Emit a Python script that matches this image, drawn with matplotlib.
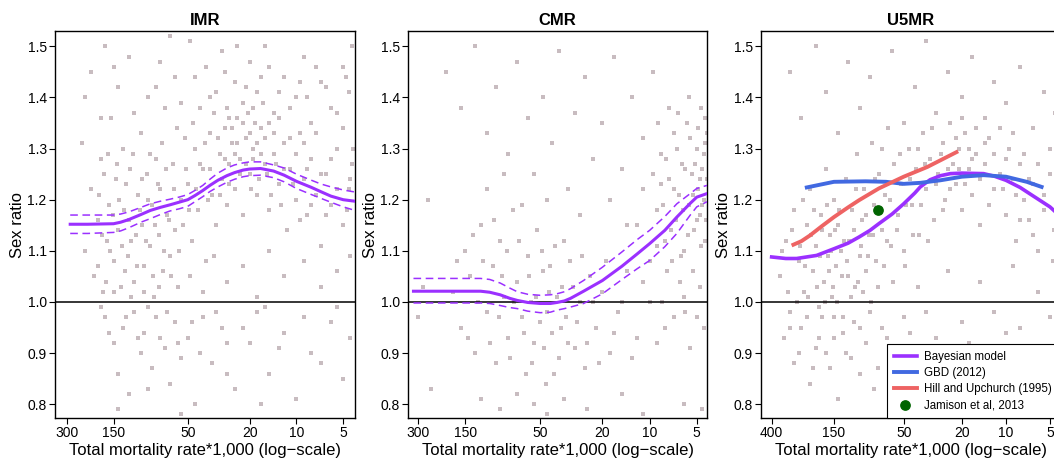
import matplotlib
matplotlib.use("Agg")
import matplotlib.pyplot as plt
from matplotlib.ticker import FixedLocator, FixedFormatter, NullLocator

plt.rcParams['font.family'] = ['Liberation Sans', 'DejaVu Sans']

imr_pts = [(240,1.31),(230,1.10),(210,1.22),(200,1.05),(190,1.16),(180,1.28),(175,1.02),(165,1.12),(160,1.19),
           (155,1.36),(150,1.08),(145,1.24),(140,1.14),(135,1.03),(130,1.30),(128,1.18),(122,1.09),(118,1.26),
           (115,1.12),(110,1.04),(105,1.21),(100,1.33),(98,1.15),(95,1.07),(92,1.25),(88,1.11),(85,1.19),
           (82,1.01),(80,1.28),(77,1.13),(75,1.22),(72,1.06),(70,1.38),(68,1.17),(65,1.09),(62,1.27),(60,1.14),
           (58,1.03),(55,1.20),(52,1.32),
           (210,1.45),(170,1.50),(140,1.42),(120,1.48),(90,1.40),(75,1.47),(60,1.44),(48,1.51),(42,1.38),
           (38,1.46),(33,1.41),(30,1.49),(27,1.36),(25,1.43),(22,1.39),(20,1.47),(18,1.41),(16,1.50),(14,1.37),
           (12,1.44),(10,1.40),(9,1.48),(8,1.35),(7,1.43),(6,1.38),(5,1.46),(4.6,1.41),
           (50,1.23),(47,1.12),(45,1.30),(43,1.18),(40,1.26),(38,1.08),(36,1.33),(35,1.21),(33,1.15),(31,1.29),
           (30,1.24),(29,1.34),(28,1.19),(27,1.27),(26,1.31),(25,1.22),(24,1.36),(23,1.28),(22,1.17),(21,1.32),
           (20,1.25),(19,1.30),(18,1.21),(17,1.34),(16,1.27),(15,1.18),(14,1.29),(13,1.23),(12,1.31),(11.5,1.14),
           (11,1.26),(10,1.20),(9.5,1.33),(9,1.24),(8.5,1.17),(8,1.28),(7.5,1.21),(7,1.11),(6.5,1.25),(6,1.19),
           (5.5,1.30),(5,1.15),(4.6,1.22),(4.4,1.27),
           (48,1.05),(40,1.02),(34,1.09),(28,1.04),(22,1.07),(18,1.01),(15,1.10),(12,1.05),(9,1.08),(7,1.03),
           (5.5,1.06),(4.5,1.09),
           (170,0.97),(150,0.92),(140,0.86),(130,0.95),(120,0.82),(110,0.98),(100,0.90),(95,0.94),(85,0.87),
           (80,0.97),(70,0.91),(65,0.84),(60,0.96),(55,0.89),(50,0.93),(45,0.80),(40,0.97),(35,0.88),(30,0.95),
           (25,0.83),(20,0.92),(18,0.98),(15,0.86),(12,0.94),(10,0.81),(8,0.90),(6,0.96),(5,0.85),(4.5,0.93),
           (190,1.07),(185,1.21),(178,1.13),(172,1.25),(168,1.04),(162,1.29),(158,1.10),(152,1.17),(148,1.02),
           (143,1.27),(138,1.20),(133,1.11),(127,1.06),(125,1.23),(120,1.16),(116,1.01),(113,1.29),(108,1.13),
           (106,1.07),(102,1.18),(99,1.24),(96,1.02),(93,1.12),(90,1.20),(87,1.29),(84,1.05),(81,1.15),(78,1.23),
           (76,1.03),(73,1.31),(71,1.10),(69,1.26),(66,1.16),(64,1.05),(61,1.22),(59,1.34),(57,1.10),(54,1.15),
           (51,1.26),(49,1.18),
           (46,1.35),(44,1.22),(42,1.27),(39,1.31),(37,1.20),(36,1.26),(34,1.37),(32,1.32),(31,1.21),(29,1.28),
           (28,1.38),(27,1.23),(26,1.34),(25,1.29),(24,1.31),(23,1.25),(22,1.35),(21,1.27),(20.5,1.37),(20,1.33),
           (19.5,1.22),(19,1.28),(18.5,1.35),(18,1.31),(17.5,1.24),(17,1.29),(16.5,1.39),(16,1.32),(15.5,1.25),
           (15,1.35),(14.5,1.21),(14,1.33),(13.5,1.27),(13,1.36),(12.5,1.19),(12,1.26),(11,1.32),(10.5,1.23),
           (10,1.29),(9.5,1.16),(9,1.31),(8.5,1.26),(8,1.19),(7.5,1.33),(7,1.25),(6.5,1.17),(6,1.28),(5.5,1.22),
           (5,1.34),(4.7,1.18),(4.5,1.24),(4.3,1.30),
           (180,0.99),(160,0.94),(125,0.97),(105,0.93),(90,0.99),(75,0.93),(68,0.98),(58,0.92),(47,0.96),
           (42,0.90),(33,0.98),(28,0.92),(22,0.95),(16,0.99),(13,0.91),(9,0.97),(7,0.88),(5.5,0.99),(140,0.79),
           (90,0.83),(55,0.78),(28,0.86),(17,0.80),
           (230,1.40),(180,1.36),(150,1.46),(110,1.37),(80,1.42),(65,1.52),(55,1.39),(45,1.44),(36,1.40),
           (29,1.45),(24,1.50),(21,1.42),(19,1.38),(17,1.44),(15,1.46),(13,1.41),(11,1.38),(9.5,1.43),(8.5,1.40),
           (7.5,1.46),(6.5,1.42),(5.5,1.37),(4.8,1.44),(4.4,1.50)]

cmr_pts = [(200,1.45),(160,1.38),(130,1.50),(110,1.33),(95,1.42),(80,1.29),(70,1.47),(60,1.36),(55,1.25),
           (48,1.40),(42,1.31),(38,1.49),(33,1.22),(30,1.37),(26,1.44),(23,1.28),(20,1.35),(17,1.48),(15,1.26),
           (13,1.40),(11,1.32),(9.5,1.45),(8.5,1.23),(7.5,1.38),
           (12,1.15),(11,1.22),(10,1.08),(9,1.18),(8.5,1.29),(8,1.12),(7.5,1.24),(7,1.33),(6.8,1.16),(6.5,1.21),
           (6.2,1.27),(6,1.10),(5.8,1.35),(5.6,1.19),(5.4,1.25),(5.2,1.14),(5,1.30),(4.9,1.22),(4.8,1.17),
           (4.7,1.38),(4.6,1.26),(4.5,1.20),(4.4,1.12),(4.4,1.31),(4.3,1.24),(5.3,1.06),(6.4,1.04),(7.2,1.08),
           (180,1.02),(160,0.95),(150,1.10),(140,1.05),(130,0.90),(120,1.15),(110,0.98),(100,1.07),(95,0.88),
           (90,1.12),(85,1.01),(80,0.93),(75,1.18),(70,1.04),(65,0.97),(62,0.86),(60,1.09),(57,1.00),(55,0.92),
           (52,1.14),(50,0.96),(48,1.06),(46,0.84),(44,1.02),(42,0.94),(40,1.11),(38,0.89),(36,1.03),(34,0.97),
           (32,1.08),(30,0.91),(28,1.00),(26,0.87),(24,1.05),(22,0.95),(20,1.02),(18,0.90),(16,0.98),(14,1.06),
           (12,0.93),(10,1.00),(8,0.95),(6,1.01),(5,0.97),
           (250,0.83),(120,0.81),(90,0.79),(70,0.82),(55,0.80),(45,0.78),(35,0.81),(25,0.79),(15,0.82),
           (11,0.78),(6,0.80),(4.6,0.79),(280,1.03),(300,0.97),(260,1.20),
           (9.5,1.25),(9,1.11),(8.8,1.35),(8.2,1.19),(7.8,1.28),(7.3,1.14),(7,1.22),(6.7,1.30),(6.3,1.09),
           (6.1,1.18),(5.9,1.26),(5.7,1.13),(5.5,1.32),(5.3,1.21),(5.1,1.27),(5,1.16),(4.9,1.34),(4.8,1.24),
           (4.7,1.11),(4.6,1.19),(4.5,1.29),(4.4,1.36),(4.35,1.16),(4.3,1.33),(5.6,1.40),(6.6,1.37),(7.7,1.06),
           (8.3,1.00),(5.9,0.98),(4.8,1.03),
           (170,1.08),(145,0.93),(135,1.13),(125,1.00),(115,1.08),(105,0.92),(98,1.16),(92,0.97),(88,1.05),
           (82,1.10),(78,0.89),(73,1.00),(68,1.12),(63,0.94),(59,1.05),(56,0.88),(53,1.01),(49,1.10),(47,0.91),
           (45,0.98),(43,1.07),(41,0.86),(39,1.01),(37,0.95),(35,1.12),(33,0.92),(31,1.03),(29,0.96),(27,1.09),
           (25,0.92),(23,1.00),(21,0.88),(19,1.08),(17,0.94),(15,1.00),(13,0.89),(11,1.04),(9,0.92),(7,0.97),
           (5.5,0.91),(4.5,0.95),(110,1.22),(85,1.25),(65,1.19),(45,1.20),(28,1.17),(18,1.20),(14,1.15)]

u5mr_pts = [(300,1.45),(250,1.36),(200,1.50),(170,1.41),(140,1.33),(120,1.47),(100,1.38),(85,1.44),(70,1.30),
            (60,1.49),(50,1.35),(42,1.42),(35,1.51),(30,1.37),(25,1.45),(20,1.40),(17,1.48),(14,1.36),(12,1.43),
            (10,1.39),(8,1.46),(6.5,1.34),(5.5,1.41),(4.6,1.37),
            (350,1.05),(320,1.12),(300,0.98),(280,1.18),(260,1.08),(240,1.02),(230,1.15),(220,1.22),(210,1.06),
            (200,1.11),(190,0.99),(185,1.17),(175,1.04),(170,1.26),(165,1.09),(160,1.13),(155,1.01),(150,1.20),
            (145,1.07),(140,1.15),(135,1.10),(130,0.97),(125,1.24),(120,1.05),(118,1.12),(112,1.18),(108,1.03),
            (104,1.29),(100,1.09),(97,1.16),(93,1.22),(90,1.06),(86,1.13),(83,1.31),(80,1.19),(77,1.08),(74,1.25),
            (70,1.14),(67,1.21),(64,1.34),(61,1.11),(58,1.27),(55,1.17),(52,1.23),(49,1.07),(46,1.30),(44,1.19),
            (41,1.26),(39,1.13),(37,1.33),(35,1.22),(33,1.28),(31,1.16),(29,1.25),(27,1.31),(26,1.20),(24,1.35),
            (23,1.27),(22,1.23),(21,1.30),(20,1.18),(19,1.33),(18,1.26),(17,1.21),(16,1.29),(15,1.15),(14,1.27),
            (13,1.32),(12,1.22),(11,1.25),(10,1.17),(9.5,1.30),(9,1.24),(8.5,1.12),(8,1.27),(7.5,1.20),(7,1.16),
            (6.5,1.23),(6,1.10),(5.5,1.18),(5,1.25),(4.7,1.14),
            (330,0.93),(280,0.88),(250,0.95),(220,0.84),(200,0.91),(180,0.97),(160,0.87),(150,0.93),(140,0.81),
            (125,0.90),(110,0.96),(100,0.86),(90,0.92),(80,0.83),(70,0.95),(60,0.89),(50,0.97),(40,0.85),
            (30,0.93),(25,0.80),(20,0.96),(15,0.88),(10,0.94),(7,0.90),(5,0.97),
            (40,1.03),(25,1.06),(15,1.04),(9,1.07),(6,1.02),
            (340,1.10),(310,1.02),(290,1.14),(270,1.00),(255,1.11),(245,1.20),(235,1.07),(225,1.01),(215,1.13),
            (205,1.18),(195,1.03),(188,1.09),(180,1.14),(172,1.00),(168,1.19),(162,1.06),(157,1.10),(152,1.03),
            (148,1.14),(143,1.00),(138,1.18),(133,1.05),(128,1.12),(123,1.08),(115,1.01),(110,1.14),(106,1.22),
            (102,1.04),(98,1.11),(95,1.02),(91,1.17),(88,1.09),(84,1.00),(81,1.13),(78,1.24),(75,1.03),(72,1.18),
            (68,1.07),(65,1.12),(62,1.20),(59,1.04),(56,1.14),(53,1.29),(50,1.10),(48,1.19),(45,1.24),(43,1.13),
            (40,1.30),(38,1.19),(36,1.27),(34,1.12),(32,1.34),(30,1.23),(28,1.29),(27,1.18),(25,1.26),(24,1.22),
            (22,1.32),(21,1.26),(20,1.36),(19,1.23),(18,1.30),(17,1.28),(16,1.34),(15,1.24),(14,1.31),(13,1.19),
            (12,1.29),(11,1.34),(10.5,1.22),(10,1.28),(9,1.33),(8.5,1.21),(8,1.16),(7.5,1.29),(7,1.24),(6.5,1.13),
            (6,1.27),(5.5,1.21),(5,1.30),(4.8,1.08),
            (300,0.95),(260,0.90),(230,0.97),(210,0.87),(190,0.93),(170,0.90),(150,0.97),(130,0.94),(115,0.89),
            (100,0.95),(85,0.98),(75,0.87),(65,0.93),(55,0.84),(45,0.94),(35,0.98),(28,0.88),(18,0.92),(12,0.98),
            (8,0.95),(6,0.86)]

# ---- fitted curves ----
imr_x = [285, 220, 150, 135, 120, 100, 87, 75, 65, 57, 50, 45, 40, 36, 32, 28, 25, 22, 20, 17, 14, 12, 10, 8, 7, 6, 5, 4.2]
imr_mid = [1.152, 1.152, 1.153, 1.156, 1.161, 1.171, 1.179, 1.185, 1.190, 1.195, 1.200, 1.208, 1.218, 1.228,
           1.238, 1.247, 1.253, 1.258, 1.260, 1.261, 1.256, 1.248, 1.236, 1.224, 1.216, 1.207, 1.200, 1.197]
imr_hi = [1.170, 1.170, 1.170, 1.172, 1.176, 1.185, 1.192, 1.197, 1.201, 1.205, 1.210, 1.218, 1.228, 1.240,
          1.252, 1.262, 1.268, 1.272, 1.274, 1.274, 1.268, 1.262, 1.250, 1.238, 1.231, 1.225, 1.219, 1.215]
imr_lo = [1.134, 1.134, 1.136, 1.139, 1.145, 1.156, 1.163, 1.171, 1.178, 1.182, 1.187, 1.196, 1.206, 1.216,
          1.225, 1.234, 1.240, 1.245, 1.247, 1.248, 1.243, 1.235, 1.222, 1.210, 1.203, 1.195, 1.186, 1.179]

cmr_x = [322, 200, 120, 105, 90, 78, 70, 60, 50, 43, 39, 35, 32, 26.4, 20, 15, 12, 10, 8, 6.7, 5.5, 5, 4.3]
cmr_mid = [1.021, 1.021, 1.021, 1.019, 1.014, 1.007, 1.003, 0.999, 0.997, 0.997, 0.999, 1.002, 1.007, 1.021,
           1.042, 1.070, 1.094, 1.114, 1.140, 1.166, 1.193, 1.205, 1.212]
cmr_hi = [1.046, 1.046, 1.046, 1.044, 1.037, 1.027, 1.020, 1.015, 1.013, 1.014, 1.016, 1.020, 1.026, 1.042,
          1.068, 1.098, 1.122, 1.140, 1.167, 1.192, 1.212, 1.222, 1.228]
cmr_lo = [0.998, 0.998, 0.998, 0.997, 0.993, 0.989, 0.987, 0.982, 0.979, 0.980, 0.984, 0.987, 0.990, 0.997,
          1.016, 1.044, 1.065, 1.081, 1.108, 1.134, 1.170, 1.186, 1.196]

u5_x = [400, 320, 270, 197, 150, 120, 101, 85, 74, 60, 50, 42, 38.5, 33, 28, 24, 20, 14.2, 12, 10, 8, 6.9, 5, 4.7]
u5_mid = [1.088, 1.085, 1.085, 1.091, 1.104, 1.115, 1.127, 1.140, 1.153, 1.172, 1.192, 1.213, 1.225, 1.239,
          1.247, 1.251, 1.252, 1.251, 1.246, 1.238, 1.224, 1.212, 1.186, 1.179]
gbd_x = [230, 150, 91, 66, 50, 38.5, 28, 20, 14.2, 10, 7.2, 5.7]
gbd_y = [1.224, 1.235, 1.236, 1.235, 1.231, 1.233, 1.238, 1.245, 1.248, 1.245, 1.235, 1.225]
hill_x = [284, 250, 219, 180, 150, 120, 101, 74, 50, 34.5, 21.8]
hill_y = [1.112, 1.119, 1.130, 1.149, 1.166, 1.185, 1.199, 1.222, 1.245, 1.264, 1.293]
jam_x = [75]
jam_y = [1.18]

PURPLE = '#9B30FF'
DOT = '#C8BCC0'

fig = plt.figure(figsize=(10.54, 4.58), dpi=100)
W, H = 1054, 458
boxes = [(55, 300, 357, 4.2), (408, 299, 349, 4.3), (761, 300, 473, 4.2)]
titles = ['IMR', 'CMR', 'U5MR']
ticks = [[300, 150, 50, 20, 10, 5], [300, 150, 50, 20, 10, 5], [400, 150, 50, 20, 10, 5]]
pts = [imr_pts, cmr_pts, u5mr_pts]

axes = []
for i in range(3):
    left, width, x0, x1 = boxes[i]
    ax = fig.add_axes([left / W, 40 / H, width / W, 387 / H])
    ax.scatter([p[0] for p in pts[i]], [p[1] for p in pts[i]], s=5, marker='s', c=DOT, linewidths=0,
               zorder=1)
    ax.axhline(1.0, color='black', lw=1.1, zorder=2)
    ax.set_xscale('log')
    ax.set_xlim(x0, x1)
    ax.set_ylim(0.773, 1.530)
    ax.xaxis.set_major_locator(FixedLocator(ticks[i]))
    ax.xaxis.set_major_formatter(FixedFormatter([str(t) for t in ticks[i]]))
    ax.xaxis.set_minor_locator(NullLocator())
    ax.set_yticks([0.8, 0.9, 1.0, 1.1, 1.2, 1.3, 1.4, 1.5])
    ax.set_yticklabels(['0.8', '0.9', '1.0', '1.1', '1.2', '1.3', '1.4', '1.5'])
    ax.tick_params(labelsize=10, length=4, width=0.8, pad=2, colors='black')
    ax.set_xlabel('Total mortality rate*1,000 (log\u2212scale)', fontsize=12, labelpad=2)
    ax.set_ylabel('Sex ratio', fontsize=12, labelpad=2)
    ax.set_title(titles[i], fontsize=12, fontweight='bold', pad=4)
    for s in ax.spines.values():
        s.set_linewidth(1.0)
    axes.append(ax)

ax1, ax2, ax3 = axes
ax1.plot(imr_x, imr_mid, color=PURPLE, lw=2.2, zorder=3)
ax1.plot(imr_x, imr_hi, color=PURPLE, lw=1.1, ls=(0, (5, 3)), zorder=3)
ax1.plot(imr_x, imr_lo, color=PURPLE, lw=1.1, ls=(0, (5, 3)), zorder=3)

ax2.plot(cmr_x, cmr_mid, color=PURPLE, lw=2.2, zorder=3)
ax2.plot(cmr_x, cmr_hi, color=PURPLE, lw=1.1, ls=(0, (5, 3)), zorder=3)
ax2.plot(cmr_x, cmr_lo, color=PURPLE, lw=1.1, ls=(0, (5, 3)), zorder=3)

ax3.plot(u5_x, u5_mid, color=PURPLE, lw=2.6, zorder=3, label='Bayesian model')
ax3.plot(gbd_x, gbd_y, color='#4169E1', lw=2.8, zorder=3, label='GBD (2012)')
ax3.plot(hill_x, hill_y, color='#EE6363', lw=2.8, zorder=3, label='Hill and Upchurch (1995)')
ax3.scatter(jam_x, jam_y, s=45, color='#006400', zorder=4, label='Jamison et al, 2013')

leg = ax3.legend(loc='lower left', bbox_to_anchor=(0.42, 0.0), fontsize=8.3, frameon=True, fancybox=False,
                 edgecolor='black', framealpha=1, handlelength=2.0, handletextpad=0.6, borderpad=0.6,
                 labelspacing=0.35, borderaxespad=0)
leg.get_frame().set_linewidth(0.8)

fig.savefig('out.png', dpi=100)
